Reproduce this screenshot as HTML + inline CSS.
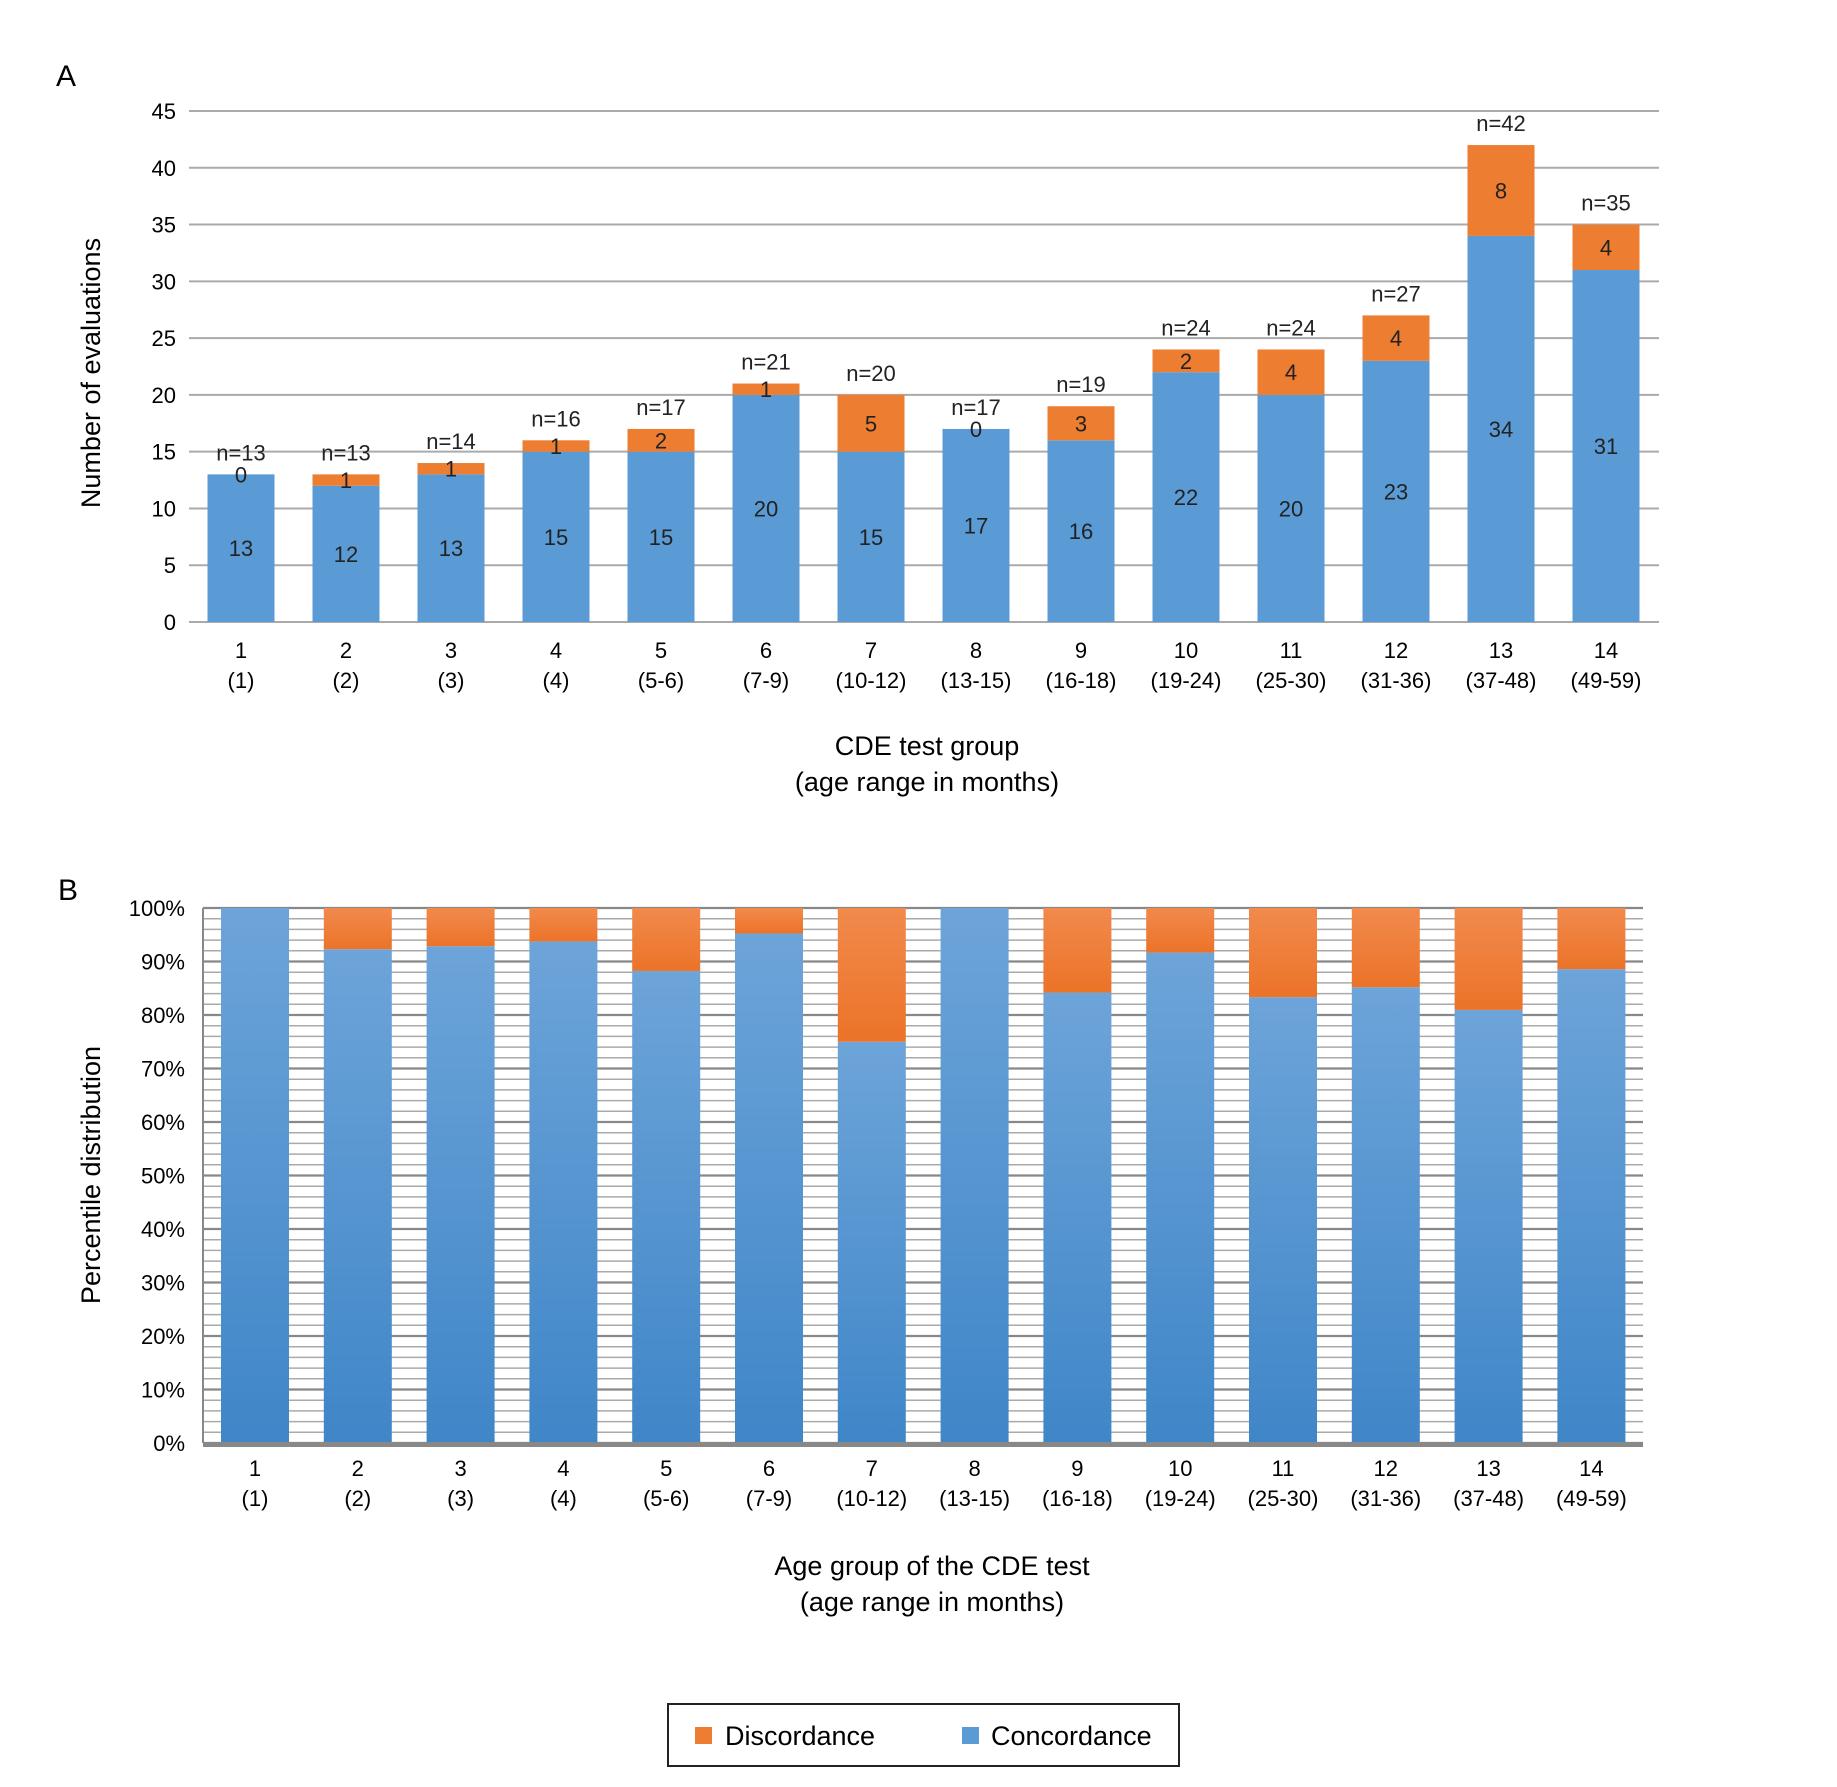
<!DOCTYPE html>
<html><head><meta charset="utf-8">
<style>
html,body{margin:0;padding:0;background:#fff;}
svg{display:block;font-family:"Liberation Sans",Arial,sans-serif;}
</style></head>
<body>
<svg id="fig" width="1837" height="1787" viewBox="0 0 1837 1787" xmlns="http://www.w3.org/2000/svg">
<defs>
<linearGradient id="gB" x1="0" y1="0" x2="0" y2="1"><stop offset="0" stop-color="#6da4d9"/><stop offset="1" stop-color="#3f86c8"/></linearGradient>
<linearGradient id="gO" x1="0" y1="0" x2="0" y2="1"><stop offset="0" stop-color="#f18a4d"/><stop offset="1" stop-color="#ec7328"/></linearGradient>
</defs>
<text x="56" y="86" font-size="30">A</text>
<text x="58" y="900" font-size="30">B</text>
<g id="chartA"></g>
<g id="chartB"></g>
<g>
<rect x="668" y="1704" width="511" height="62" fill="#fff" stroke="#222" stroke-width="2"/>
<rect x="695" y="1727" width="17" height="17" fill="#ed7d31"/>
<text x="725" y="1745" font-size="27">Discordance</text>
<rect x="962" y="1727" width="17" height="17" fill="#5b9bd5"/>
<text x="991" y="1745" font-size="27">Concordance</text>
</g>
</svg>
<script>
const groups = ["1","2","3","4","5","6","7","8","9","10","11","12","13","14"];
const ranges = ["(1)","(2)","(3)","(4)","(5-6)","(7-9)","(10-12)","(13-15)","(16-18)","(19-24)","(25-30)","(31-36)","(37-48)","(49-59)"];
const concordance = [13,12,13,15,15,20,15,17,16,22,20,23,34,31];
const discordance = [0,1,1,1,2,1,5,0,3,2,4,4,8,4];
const ticksA = [0,5,10,15,20,25,30,35,40,45];
const ticksB = [0,10,20,30,40,50,60,70,80,90,100];

const NS = "http://www.w3.org/2000/svg";
function mk(parent, tag, attrs, text){
  const e = document.createElementNS(NS, tag);
  for (const k in attrs) e.setAttribute(k, attrs[k]);
  if (text !== undefined) e.textContent = text;
  parent.appendChild(e); return e;
}
const A = document.getElementById('chartA');
const B = document.getElementById('chartB');

// ---- Chart A ----
const aL = 189, aR = 1659, aY0 = 622, aY45 = 111;
const yA = v => aY0 - (v/45)*(aY0 - aY45);
const xA = i => 241 + i*105;
const bwA = 67;
ticksA.forEach(t => {
  const l = mk(A,'line',{x1:aL,x2:aR,y1:yA(t),y2:yA(t),stroke:'#aaa','stroke-width':2});
  
  
  const tx = mk(A,'text',{x:176,y:yA(t)+8,'font-size':22,'text-anchor':'end'},String(t));
  
  
});
groups.forEach((g,i) => {
  const c = concordance[i], d = discordance[i], n = c+d, cx = xA(i);
  const rb = mk(A,'rect',{x:cx-bwA/2,y:yA(c),width:bwA,height:yA(0)-yA(c),fill:'#5b9bd5'});
  
  
  if (d>0){
    const ro = mk(A,'rect',{x:cx-bwA/2,y:yA(n),width:bwA,height:yA(c)-yA(n),fill:'#ed7d31'});
    
    
  }
  const lc = mk(A,'text',{x:cx,y:(yA(c)+yA(0))/2+8,'font-size':22,'text-anchor':'middle',fill:'#222'},String(c));
  
  
  const ld = mk(A,'text',{x:cx,y:(yA(c)+yA(n))/2+8,'font-size':22,'text-anchor':'middle',fill:'#222'},String(d));
  
  
  const ln = mk(A,'text',{x:cx,y:yA(n)-14,'font-size':22,'text-anchor':'middle',fill:'#222'},'n='+n);
  
  
  const c1 = mk(A,'text',{x:cx,y:658,'font-size':22,'text-anchor':'middle'},g);
  
  
  const c2 = mk(A,'text',{x:cx,y:688,'font-size':22,'text-anchor':'middle'},ranges[i]);
  
  
});
const atx1 = mk(A,'text',{x:927,y:755,'font-size':27,'text-anchor':'middle'},'CDE test group');


const atx2 = mk(A,'text',{x:927,y:791,'font-size':27,'text-anchor':'middle'},'(age range in months)');


const aty = mk(A,'text',{x:0,y:0,'font-size':27,'text-anchor':'middle',transform:'translate(100,373) rotate(-90)'},'Number of evaluations');



// ---- Chart B ----
const bL = 203, bR = 1643, bY0 = 1443, bY100 = 908;
const yB = v => bY0 - (v/100)*(bY0 - bY100);
const xB = i => 255 + i*102.8;
const bwB = 68;
for (let v=0; v<=100; v+=2){
  const major = v%10===0;
  const l = mk(B,'line',{x1:bL,x2:bR,y1:yB(v),y2:yB(v),stroke:major?'#888':'#aaa','stroke-width':major?2.2:1.5});
  
  
}
const vb = mk(B,'line',{x1:bL,x2:bL,y1:bY100,y2:bY0,stroke:'#888','stroke-width':2});


ticksB.forEach(t => {
  const tx = mk(B,'text',{x:185,y:yB(t)+8,'font-size':22,'text-anchor':'end'},t+'%');
  
  
});
groups.forEach((g,i) => {
  const c = concordance[i], d = discordance[i], n = c+d, cx = xB(i);
  const pc = c/n*100;
  const rb = mk(B,'rect',{x:cx-bwB/2,y:yB(pc),width:bwB,height:yB(0)-yB(pc),fill:'url(#gB)'});
  
  
  if (d>0){
    const ro = mk(B,'rect',{x:cx-bwB/2,y:yB(100),width:bwB,height:yB(pc)-yB(100),fill:'url(#gO)'});
    
    
  }
  const c1 = mk(B,'text',{x:cx,y:1476,'font-size':22,'text-anchor':'middle'},g);
  
  
  const c2 = mk(B,'text',{x:cx,y:1506,'font-size':22,'text-anchor':'middle'},ranges[i]);
  
  
});
const ax = mk(B,'rect',{x:bL,y:bY0-1,width:bR-bL,height:5,fill:'#888'});


const btx1 = mk(B,'text',{x:932,y:1575,'font-size':27,'text-anchor':'middle'},'Age group of the CDE test');


const btx2 = mk(B,'text',{x:932,y:1611,'font-size':27,'text-anchor':'middle'},'(age range in months)');


const bty = mk(B,'text',{x:0,y:0,'font-size':27,'text-anchor':'middle',transform:'translate(100,1175) rotate(-90)'},'Percentile distribution');


</script>
</body></html>
